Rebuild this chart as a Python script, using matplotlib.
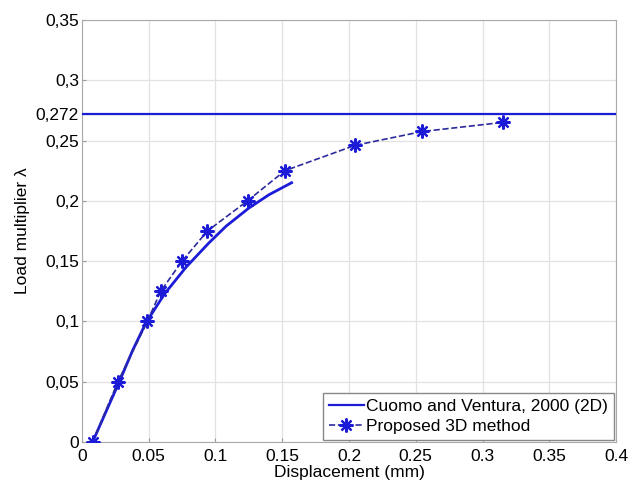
import matplotlib.pyplot as plt

## dados
cuomo_x = [0.008, 0.018, 0.028, 0.038, 0.048, 0.062, 0.078, 0.095, 0.108, 0.125, 0.14, 0.157]
cuomo_y = [0.0, 0.025, 0.05, 0.076, 0.099, 0.123, 0.145, 0.165, 0.179, 0.194, 0.205, 0.215]
prop_x = [0.008, 0.027, 0.049, 0.059, 0.075, 0.094, 0.124, 0.152, 0.2045, 0.255, 0.315]
prop_y = [0.0, 0.05, 0.1, 0.125, 0.15, 0.175, 0.2, 0.225, 0.246, 0.2575, 0.265]
limite = 0.272

xticks = [0, 0.05, 0.1, 0.15, 0.2, 0.25, 0.3, 0.35, 0.4]
xlabels = ["0", "0.05", "0.1", "0.15", "0.2", "0.25", "0.3", "0.35", "0.4"]
yticks = [0, 0.05, 0.1, 0.15, 0.2, 0.25, 0.272, 0.3, 0.35]
ylabels = ["0", "0,05", "0,1", "0,15", "0,2", "0,25", "0,272", "0,3", "0,35"]

plt.rcParams['font.family'] = ['Liberation Sans', 'DejaVu Sans']

fig = plt.figure(figsize=(6.3, 4.84), dpi=100)
ax = fig.add_axes([0.130, 0.0868, 0.848, 0.872])

azul = "#1c1cd8"
ax.axhline(limite, color=azul, lw=1.6, zorder=3, label="Cuomo and Ventura, 2000 (2D)")
ax.plot(cuomo_x, cuomo_y, color=azul, lw=2.0, zorder=3)
ax.plot(prop_x, prop_y, color="#2b2b9c", ls="--", lw=1.2, marker=(8, 2, 0), ms=10,
        mew=1.6, mfc=azul, mec=azul, zorder=4, label="Proposed 3D method")

ax.set_xlim(0, 0.4)
ax.set_ylim(0, 0.35)
ax.set_xticks(xticks)
ax.set_xticklabels(xlabels)
ax.set_yticks(yticks)
ax.set_yticklabels(ylabels)
ax.tick_params(direction="in", labelsize=12.5, color="#999999", length=3)
ax.tick_params(axis="y", pad=2)
ax.tick_params(axis="x", pad=5)
ax.grid(True, color="#e2e2e2", lw=0.9)
for s in ax.spines.values():
    s.set_color("#aaaaaa")

ax.set_xlabel("Displacement (mm)", fontsize=12.5, labelpad=1)
ax.set_ylabel("Load multiplier λ", fontsize=12.5, labelpad=4)

leg = ax.legend(loc="lower right", fontsize=12.5, fancybox=False, framealpha=1,
                edgecolor="#888888", borderaxespad=0.1, handlelength=2.0,
                handletextpad=0.15, borderpad=0.35, labelspacing=0.3)

fig.savefig("out.png", dpi=100)
